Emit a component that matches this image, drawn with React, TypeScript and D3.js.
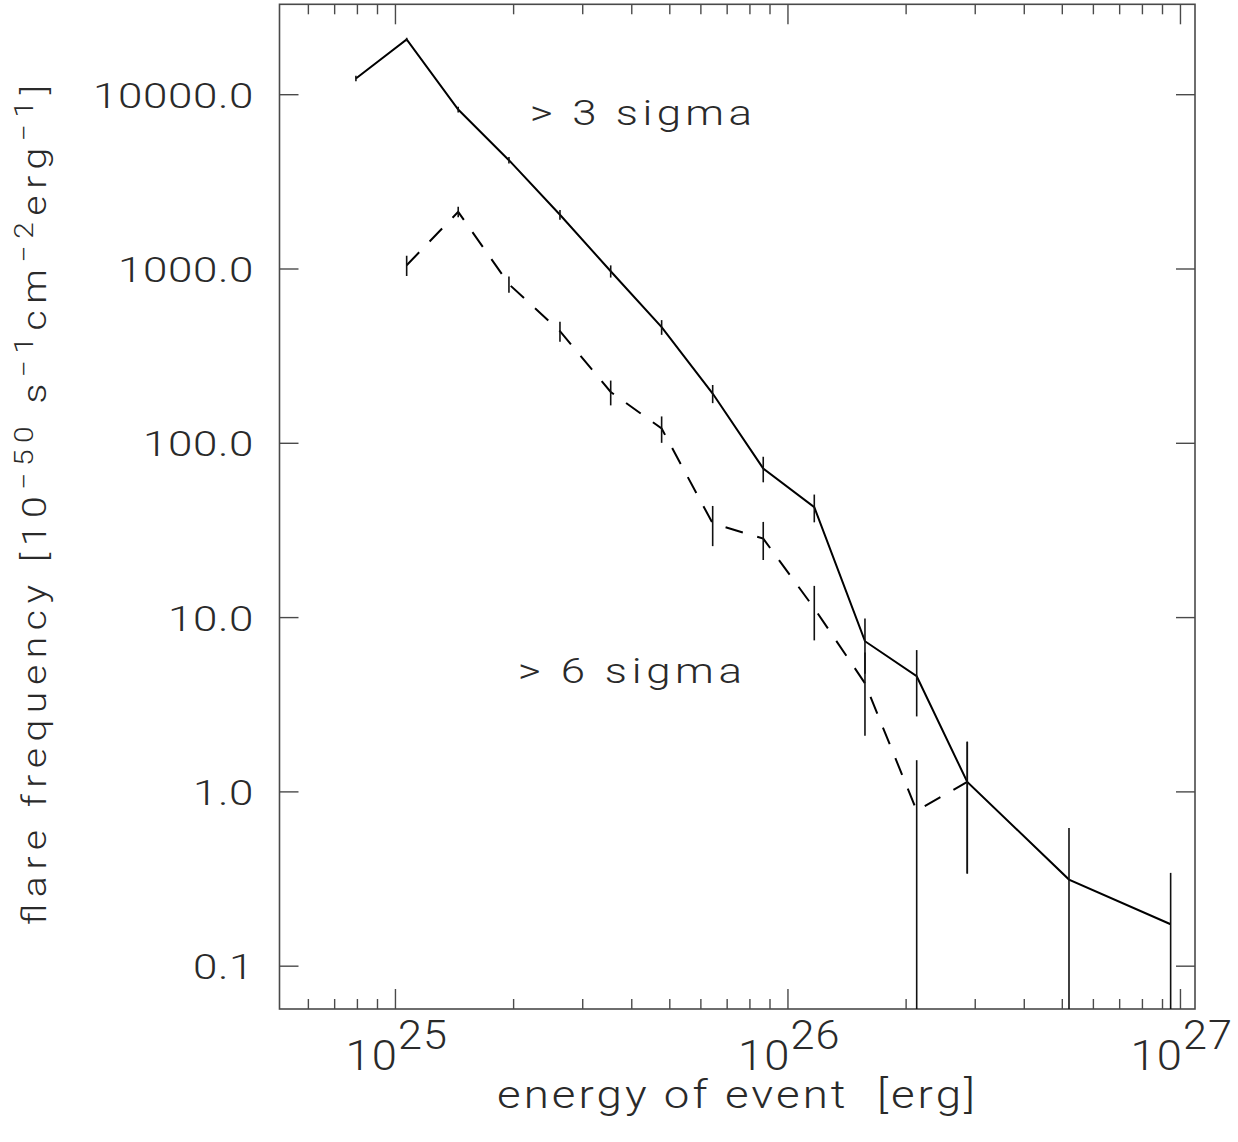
import React from "react";
import * as d3 from "d3";

// ---- data ----
const energy = [7.93e24, 1.068e25, 1.445e25, 1.946e25, 2.625e25, 3.535e25, 4.766e25, 6.43e25, 8.65e25, 1.167e26, 1.571e26, 2.128e26, 2.863e26, 5.2e26, 9.44e26];
const sigma3Freq = [12390, 20740, 8225, 4210, 2047, 971, 464, 193, 71.7, 43.0, 7.32, 4.61, 1.14, 0.314, 0.174];
const sigma3Err = [460, 470, 310, 185, 130, 78, 45, 23, 12, 7.8, 2.56, 1.9, 0.8, 0.307, 0.169];

const energy6 = [1.068e25, 1.445e25, 1.946e25, 2.625e25, 3.535e25, 4.766e25, 6.43e25, 8.65e25, 1.167e26, 1.571e26, 2.128e26, 2.863e26];
const sigma6Freq = [1051, 2127, 818, 440, 197, 121.6, 34.7, 28.4, 11.3, 4.2, 0.78, 1.14];
const sigma6Err = [140, 145, 87, 58, 32, 21, 9, 7, 3.9, 2.1, 0.74, 0.8];

const yTicks = [10000, 1000, 100, 10, 1, 0.1];
const yTickLabels = ["10000.0", "1000.0", "100.0", "10.0", "1.0", "0.1"];
const xMajor = [1e25, 1e26, 1e27];
const xMajorExp = ["25", "26", "27"];
const xLabel = "energy of event  [erg]";
const annot3 = "> 3 sigma";
const annot6 = "> 6 sigma";

const W = 1238;
const H = 1142;
const L = 279.5, R = 1195, T = 4.3, B = 1009;

const FONT = "Roboto, 'Open Sans', sans-serif";
const TXT = "#2a2a2a";
const AX = "#4a4a4a";

export default function App() {
  const x = d3.scaleLog().domain([5.065e24, 1.089e27]).range([L, R]);
  const y = d3.scaleLog().domain([0.0568, 33010]).range([B, T]);

  const line = d3.line<[number, number]>().x((d) => x(d[0])).y((d) => y(d[1]));
  const s3 = energy.map((e, i) => [e, sigma3Freq[i]] as [number, number]);
  const s6 = energy6.map((e, i) => [e, sigma6Freq[i]] as [number, number]);

  const yClamp = (v: number) => (v <= 0 ? B : Math.min(B, Math.max(T, y(v))));

  const minor: number[] = [];
  for (let dec = 24; dec <= 26; dec++) {
    for (let m = 2; m <= 9; m++) {
      const v = m * Math.pow(10, dec);
      if (x(v) > L + 1 && x(v) < R - 1) minor.push(v);
    }
  }

  const sx = 1.22;

  return (
    <svg width={W} height={H} style={{ display: "block", position: "absolute", left: 0, top: 0, background: "#fff" }}>
      <defs>
        <clipPath id="plotclip">
          <rect x={L} y={T} width={R - L} height={B - T} />
        </clipPath>
      </defs>
      <rect x={0} y={0} width={W} height={H} fill="#fff" />

      {/* frame */}
      <rect x={L} y={T} width={R - L} height={B - T} fill="none" stroke={AX} strokeWidth={1.6} />

      {/* x ticks bottom & top */}
      {xMajor.map((v, i) => (
        <g key={"xm" + i}>
          <line x1={x(v)} x2={x(v)} y1={B} y2={B - 20} stroke={AX} strokeWidth={1.4} />
          <line x1={x(v)} x2={x(v)} y1={T} y2={T + 20} stroke={AX} strokeWidth={1.4} />
        </g>
      ))}
      {minor.map((v, i) => (
        <g key={"xn" + i}>
          <line x1={x(v)} x2={x(v)} y1={B} y2={B - 10} stroke={AX} strokeWidth={1.4} />
          <line x1={x(v)} x2={x(v)} y1={T} y2={T + 10} stroke={AX} strokeWidth={1.4} />
        </g>
      ))}
      {/* y ticks left & right */}
      {yTicks.map((v, i) => (
        <g key={"yt" + i}>
          <line x1={L} x2={L + 19} y1={y(v)} y2={y(v)} stroke={AX} strokeWidth={1.4} />
          <line x1={R} x2={R - 19} y1={y(v)} y2={y(v)} stroke={AX} strokeWidth={1.4} />
        </g>
      ))}

      {/* y tick labels */}
      {yTicks.map((v, i) => (
        <text key={"yl" + i} transform={`translate(254,${y(v) + 13}) scale(${sx},1)`} textAnchor="end" fontFamily={FONT} fontWeight={300}
          fontSize={36} fill={TXT} letterSpacing={0.5}>
          {yTickLabels[i]}
        </text>
      ))}

      {/* x tick labels */}
      {xMajor.map((v, i) => (
        <text key={"xl" + i} transform={`translate(${x(v) - 50},1070) scale(1.08,1)`} fontFamily={FONT} fontWeight={300} fontSize={42} fill={TXT} letterSpacing={1}>
          10
          <tspan dy={-21} fontSize={40}>{xMajorExp[i]}</tspan>
        </text>
      ))}

      {/* axis titles */}
      <text transform="translate(497,1108) scale(1.2,1)" fontFamily={FONT} fontWeight={300} fontSize={38} fill={TXT}
        textLength={478 / 1.2} lengthAdjust="spacing" style={{ whiteSpace: "pre" }}>
        {xLabel}
      </text>
      <text transform="translate(46,925) rotate(-90) scale(1.15,1)" fontFamily={FONT} fontWeight={300} fontSize={34} fill={TXT}
        textLength={840 / 1.15} lengthAdjust="spacing" style={{ whiteSpace: "pre" }}>
        {"flare frequency ["}10
        <tspan dy={-13} fontSize={26}>{"\u221250"}</tspan>
        <tspan dy={13}>{" s"}</tspan>
        <tspan dy={-13} fontSize={26}>{"\u22121"}</tspan>
        <tspan dy={13}>cm</tspan>
        <tspan dy={-13} fontSize={26}>{"\u22122"}</tspan>
        <tspan dy={13}>erg</tspan>
        <tspan dy={-13} fontSize={26}>{"\u22121"}</tspan>
        <tspan dy={13}>]</tspan>
      </text>

      {/* annotations */}
      <text transform="translate(530,125) scale(1.25,1)" fontFamily={FONT} fontWeight={300} fontSize={35} fill={TXT}
        textLength={222 / 1.25} lengthAdjust="spacing" style={{ whiteSpace: "pre" }}>
        {annot3}
      </text>
      <text transform="translate(518,683) scale(1.25,1)" fontFamily={FONT} fontWeight={300} fontSize={35} fill={TXT}
        textLength={224 / 1.25} lengthAdjust="spacing" style={{ whiteSpace: "pre" }}>
        {annot6}
      </text>

      {/* data */}
      <g clipPath="url(#plotclip)">
        <path d={line(s3) || ""} fill="none" stroke="#000" strokeWidth={2} />
        <path d={line(s6) || ""} fill="none" stroke="#000" strokeWidth={2} strokeDasharray="18,15" />
        {energy.map((e, i) => (
          <line key={"e3" + i} x1={x(e)} x2={x(e)} y1={yClamp(sigma3Freq[i] - sigma3Err[i])} y2={yClamp(sigma3Freq[i] + sigma3Err[i])}
            stroke="#111" strokeWidth={1.6} />
        ))}
        {energy6.map((e, i) => (
          <line key={"e6" + i} x1={x(e)} x2={x(e)} y1={yClamp(sigma6Freq[i] - sigma6Err[i])} y2={yClamp(sigma6Freq[i] + sigma6Err[i])}
            stroke="#111" strokeWidth={1.6} />
        ))}
      </g>
    </svg>
  );
}
